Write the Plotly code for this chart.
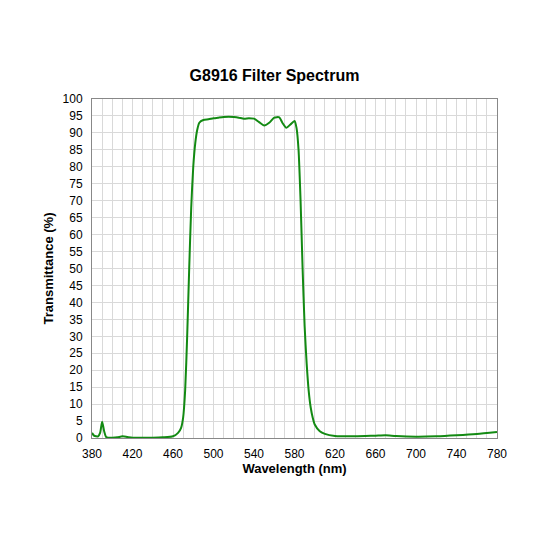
import plotly.graph_objects as go

wavelength = [380,382,384,386,388,390,392,394,396,400,405,410,415,420,440,450,460,465,468,470,472,474,476,478,480,482,484,486,490,495,500,505,510,515,520,525,530,535,540,545,550,555,560,565,568,572,576,580,582,584,586,588,590,592,594,596,598,600,605,610,620,640,660,670,680,700,720,740,760,780]
transmittance = [1.5,0.7,0.5,0.5,1.5,4.8,2,0.3,0.1,0.1,0.2,0.5,0.3,0.1,0.1,0.2,0.5,1.5,3,6,14,30,50,68,80,87,91,93,93.8,94,94.3,94.5,94.7,94.8,94.7,94.5,94.2,94.3,94.2,93.2,92.2,93,94.5,94.6,93,91.5,92.5,93.5,91.5,85,70,50,33,22,14,9,6,4,2,1.2,0.6,0.5,0.7,0.8,0.6,0.4,0.5,0.8,1.2,1.8]

fig = go.Figure(go.Scatter(x=wavelength, y=transmittance, mode="lines",
                           line=dict(color="#138a13", width=2, shape="spline", smoothing=0.6)))
font = "Liberation Sans, Arial, sans-serif"
fig.update_layout(
    width=533, height=533, paper_bgcolor="white", plot_bgcolor="white",
    margin=dict(l=84, r=44, t=91, b=103), showlegend=False,
    title=dict(text="<b>G8916 Filter Spectrum</b>", x=0.5, xanchor="center", y=0.874, yanchor="middle",
               font=dict(family=font, size=16, color="black")),
    font=dict(family=font, size=12, color="black"),
)
fig.update_xaxes(range=[380, 780], tickvals=list(range(380, 781, 40)),
                 showgrid=True, gridcolor="#d9d9d9", gridwidth=1,
                 minor=dict(dtick=10, showgrid=True, gridcolor="#d9d9d9"),
                 showline=True, linecolor="#888", mirror=True, ticks="", zeroline=False,
                 ticklabelstandoff=5,
                 title=dict(text="<b>Wavelength (nm)</b>", font=dict(size=13), standoff=2))
fig.update_yaxes(range=[0, 100], dtick=5, showgrid=True, gridcolor="#d9d9d9",
                 showline=True, linecolor="#888", mirror=True, ticks="", zeroline=False,
                 ticklabelstandoff=6,
                 title=dict(text="<b>Transmittance (%)</b>", font=dict(size=13), standoff=6))
fig.write_html("out.html")
